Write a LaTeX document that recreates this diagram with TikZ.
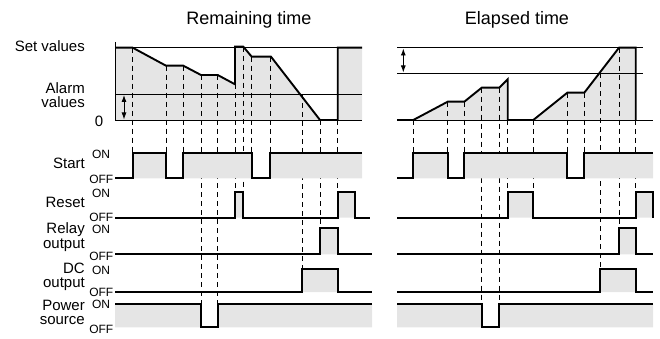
\documentclass[tikz,border=0pt]{standalone}
\usepackage{fontspec}
\setmainfont{Liberation Sans}
\usepackage{tikz}
\usetikzlibrary{arrows.meta}
\definecolor{sigfill}{RGB}{229,229,229}

% filled step wave: #1 = path, #2 = point that closes it on the low level
\newcommand\sigline[2]{\fill[grayfill] #1 |- #2 -- cycle; \draw[sig] #1;}

\begin{document}
\begin{tikzpicture}[x=1pt,y=-1pt,
  ttl/.style={font=\fontsize{18}{18}\selectfont},
  lbl/.style={anchor=east, inner sep=0pt, font=\fontsize{15}{15}\selectfont},
  lvl/.style={inner sep=0pt, font=\fontsize{12}{12}\selectfont},
  sig/.style={line width=1.9pt},
  ruler/.style={line width=0.9pt},
  dsh/.style={line width=0.9pt, dash pattern=on 5pt off 4pt},
  grayfill/.style={fill=sigfill},
  span/.style={line width=0.9pt,
    {Latex[length=7pt,width=5pt]}-{Latex[length=7pt,width=5pt]}}]
  \useasboundingbox (0,0) rectangle (660,339);

  % --- remaining time (left) ---
  \sigline{(115,47.7) -- (132.7,47.7) -- (166,65.7) -- (183.3,65.7) -- (201,75)
    -- (217.7,75) -- (235,84.3) -- (235,46.7) -- (243.3,46.7) -- (251.7,56.7)
    -- (271,56.7) -- (320,120) -- (337.7,120) -- (337.7,47.7) -- (362,47.7)}{(115,120)}
  \draw[ruler] (115,47.7) -- (362,47.7);
  \draw[ruler] (115,94) -- (362,94);
  \draw[ruler] (115,120) -- (362,120);
  \draw[ruler] (115,42) -- (115,120);
  \draw[span] (124,95) -- (124,119.5);

  % --- elapsed time (right) ---
  \sigline{(397,120) -- (413.3,120) -- (447.7,101.7) -- (464.3,101.7) -- (481.7,87.7)
    -- (499.3,87.7) -- (507.7,79.3) -- (507.7,120) -- (533.3,120) -- (567.3,92.7)
    -- (584.3,92.7) -- (619,47.7) -- (635.7,47.7) -- (635.7,120)}{(397,120)}
  \draw[ruler] (397,47.7) -- (643,47.7);
  \draw[ruler] (397,73.3) -- (643,73.3);
  \draw[ruler] (397,120) -- (653,120);
  \draw[span] (403.3,48.5) -- (403.3,72.5);

  % dashed event lines
  \foreach \x/\a/\b in {132.7/47.7/153.3, 166/65.7/153.3, 183.3/65.7/153.3,
      201/75/304, 217.7/75/304, 235/84.3/191.7, 243.3/46.7/191.7,
      251.7/56.7/153.3, 270/56.7/153.3, 302/94/269.3, 320/120/227.7,
      337.7/120/191.7,
      413.3/120/153.3, 447.7/101.7/153.3, 464.3/101.7/153.3, 481.7/87.7/304,
      499.3/87.7/304, 507.7/120/191.7, 533.3/120/191.7, 567.3/92.7/153.3,
      584.3/92.7/153.3, 600/73.3/269.3, 619/47.7/227.7, 635.7/120/191.7}
    \draw[dsh] (\x,\a) -- (\x,\b);

  % --- signal rows, left ---
  \sigline{(115,178.3) -| (132.7,153.3) -| (166,178.3) -| (183.3,153.3)
    -| (251.7,178.3) -| (270,153.3) -- (362,153.3)}{(115,178.3)}
  \sigline{(115,217.7) -| (235,191.7) -| (243.3,217.7) -| (337.7,191.7)
    -| (355,217.7) -- (370,217.7)}{(115,217.7)}
  \sigline{(115,254.3) -| (320,227.7) -| (337.7,254.3) -- (372,254.3)}{(115,254.3)}
  \sigline{(115,292) -| (302,269.3) -| (337.7,292) -- (372,292)}{(115,292)}
  \sigline{(115,304) -| (201,327.3) -| (217.7,304) -- (372,304)}{(115,327.3)}

  % --- signal rows, right ---
  \sigline{(397,178.3) -| (413.3,153.3) -| (447.7,178.3) -| (464.3,153.3)
    -| (567.3,178.3) -| (584.3,153.3) -- (653,153.3)}{(397,178.3)}
  \sigline{(397,217.7) -| (507.7,191.7) -| (533.3,217.7) -| (635.7,191.7)
    -| (653,217.7)}{(397,217.7)}
  \sigline{(397,254.3) -| (619,227.7) -| (635.7,254.3) -- (653,254.3)}{(397,254.3)}
  \sigline{(397,292) -| (600,269.3) -| (635.7,292) -- (653,292)}{(397,292)}
  \sigline{(397,304) -| (481.7,327.3) -| (499.3,304) -- (653,304)}{(397,327.3)}

  % titles and labels
  \node[ttl] (remain) at (249,20) {Remaining time};
  \node[ttl] (elapsed) at (517,20) {Elapsed time};
  \node[lbl] (setv) at (85,46) {Set values};
  \node[lbl] (alarma) at (85,88.5) {Alarm};
  \node[lbl] (alarmb) at (85,102.5) {values};
  \node[lbl] (zero) at (103.5,121.5) {0};
  \node[lbl] (start) at (85,163) {Start};
  \node[lbl] (reset) at (85,202) {Reset};
  \node[lbl] (relaya) at (85,229.3) {Relay};
  \node[lbl] (relayb) at (85,245) {output};
  \node[lbl] (dca) at (85,268.5) {DC};
  \node[lbl] (dcb) at (85,284.5) {output};
  \node[lbl] (powera) at (85,305.3) {Power};
  \node[lbl] (powerb) at (85,320.7) {source};

  \foreach \nm/\on/\off in {start/154/179.3, reset/193/217.7, relay/229/256.7,
      dc/270/292.7, power/304/329.3}{
    \node[lvl] (\nm on) at (101,\on) {ON};
    \node[lvl, anchor=east] (\nm off) at (113.5,\off) {OFF};
  }
\end{tikzpicture}
\end{document}
